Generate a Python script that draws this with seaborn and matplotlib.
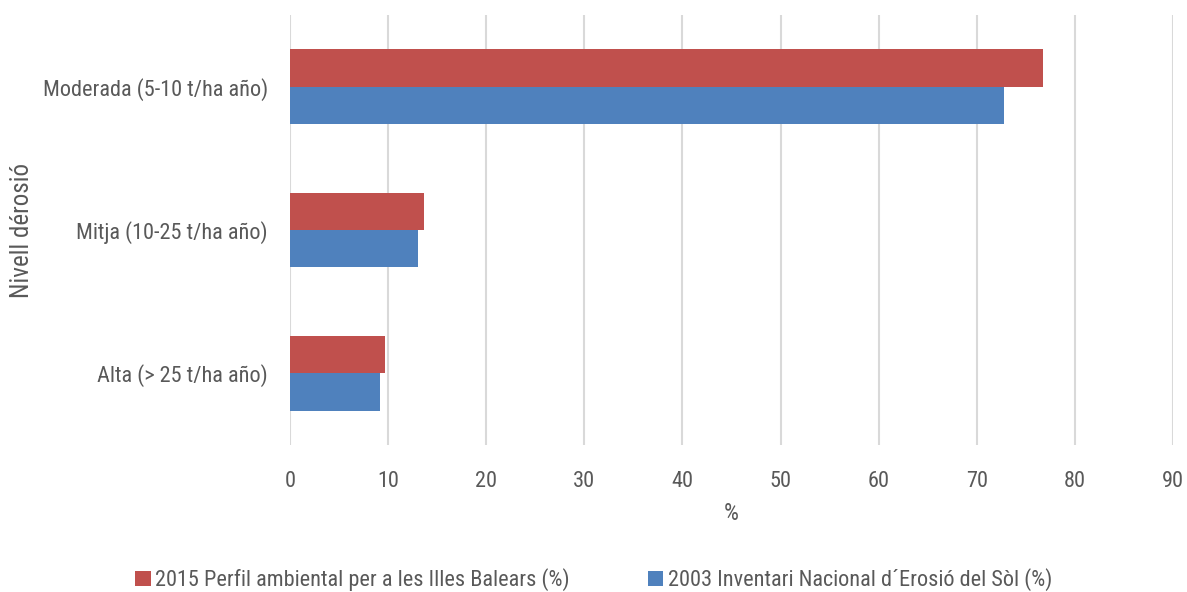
import matplotlib
matplotlib.use("Agg")
import matplotlib.pyplot as plt
import seaborn as sns
import pandas as pd
from matplotlib.patches import Patch
from matplotlib import font_manager as fm

categories = ["Moderada (5-10 t/ha año)", "Mitja (10-25 t/ha año)", "Alta (> 25 t/ha año)"]
series_2015 = [76.8, 13.7, 9.7]
series_2003 = [72.8, 13.0, 9.2]
series_names = ["2015 Perfil ambiental per a les Illes Balears (%)",
                "2003 Inventari Nacional d\u00b4Erosi\u00f3 del S\u00f2l (%)"]
xticks = [0, 10, 20, 30, 40, 50, 60, 70, 80, 90]

sns.set_theme(style="white")
names = {f.name for f in fm.fontManager.ttflist}
fam = "DejaVu Sans"
for cand in ["Liberation Sans Narrow", "Arial Narrow", "Roboto Condensed", "Open Sans Condensed"]:
    if cand in names:
        fam = cand
        break
plt.rcParams['font.family'] = [fam, 'DejaVu Sans']
plt.rcParams['font.stretch'] = 'condensed'

df = pd.DataFrame({
    "cat": categories * 2,
    "val": series_2015 + series_2003,
    "serie": [series_names[0]] * 3 + [series_names[1]] * 3,
})
colors = ["#C0504D", "#4F81BD"]
txt = "#595959"

fig = plt.figure(figsize=(11.87, 5.92), dpi=100)
ax = fig.add_axes([290/1187, 1-445/592, (1173-290)/1187, (445-15)/592])
sns.barplot(data=df, y="cat", x="val", hue="serie", hue_order=series_names,
            order=categories, palette=colors, orient="h", width=0.52,
            ax=ax, legend=False, saturation=1, linewidth=0)
ax.set_xlim(0, 90)
ax.set_xticks(xticks)
ax.set_xticklabels([str(t) for t in xticks], fontsize=16, color=txt)
ax.tick_params(axis='y', labelsize=16, labelcolor=txt, length=0, pad=16)
ax.tick_params(axis='x', length=0, pad=19)
ax.set_ylim(2.5, -0.5)
ax.grid(axis='x', color="#D9D9D9", linewidth=1.5)
ax.set_axisbelow(True)
for s in ax.spines.values():
    s.set_visible(False)
ax.set_xlabel("%", fontsize=17, color=txt, labelpad=7)
ax.set_ylabel("Nivell d\u00e9rosi\u00f3", fontsize=18, color=txt)
ax.yaxis.set_label_coords((34 - 290) / 883, 0.5)

handles = [Patch(facecolor=c, edgecolor='none') for c in colors]
fig.legend(handles, series_names, loc="center", bbox_to_anchor=(0.5, 1-580/592),
           ncol=2, frameon=False, fontsize=16, labelcolor=txt,
           handlelength=0.7, handleheight=0.7, handletextpad=0.2, columnspacing=3.5)
fig.savefig("out.png", dpi=100)
